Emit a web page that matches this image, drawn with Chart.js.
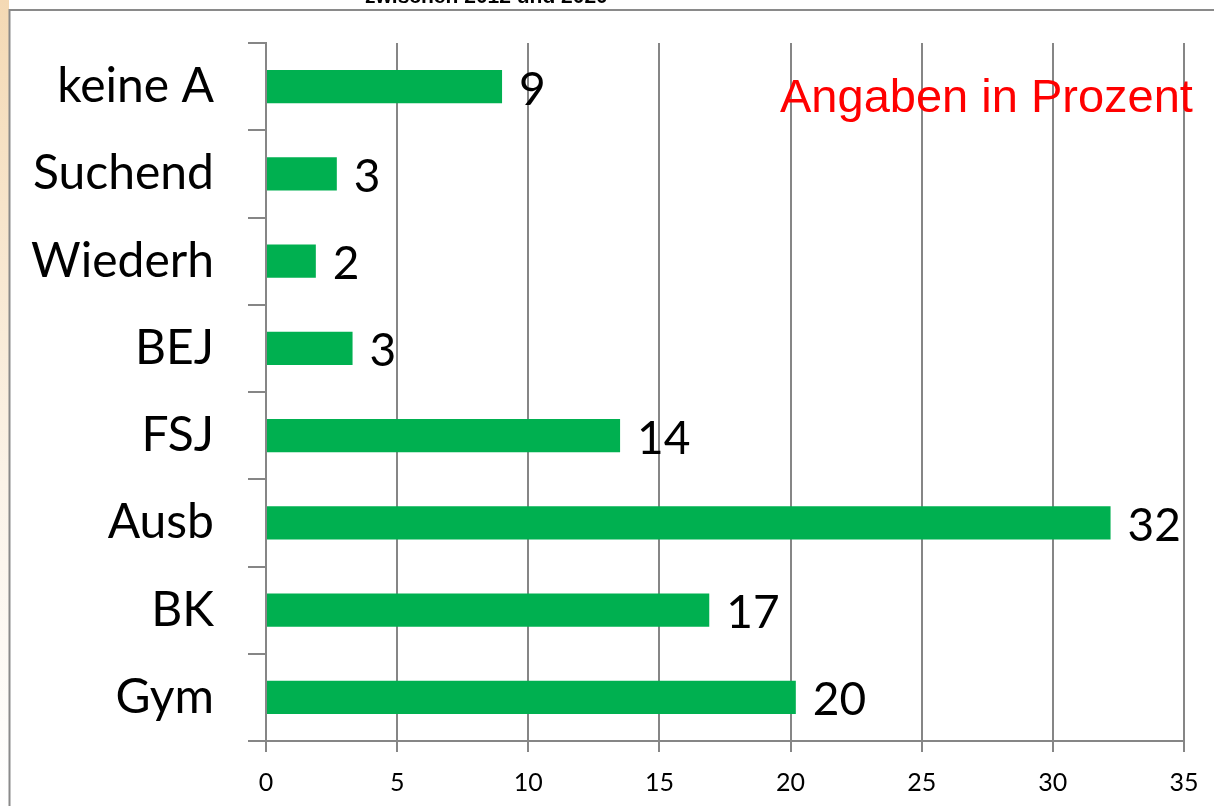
<!DOCTYPE html>
<html>
<head>
<meta charset="utf-8">
<script src="https://cdn.jsdelivr.net/npm/chart.js"></script>
<style>
html,body{margin:0;padding:0;background:#fff;overflow:hidden;}
#wrap{width:1214px;height:806px;position:relative;}
</style>
</head>
<body>
<div id="wrap"><canvas id="c" width="1214" height="806"></canvas></div>
<script>
const categories = ["keine A", "Suchend", "Wiederh", "BEJ", "FSJ", "Ausb", "BK", "Gym"];
const values = [9.0, 2.7, 1.9, 3.3, 13.5, 32.2, 16.9, 20.2];
const valueLabels = ["9", "3", "2", "3", "14", "32", "17", "20"];
const xTicks = [0, 5, 10, 15, 20, 25, 30, 35];
const titleText = "zwischen 2012 und 2020";
const noteText = "Angaben in Prozent";

const GRID = "#868686";

const framePlugin = {
  id: "frame",
  beforeDraw(chart) {
    const ctx = chart.ctx;
    ctx.save();
    ctx.fillStyle = "#ffffff";
    ctx.fillRect(0, 0, chart.width, chart.height);
    const g = ctx.createLinearGradient(0, 0, 0, 806);
    g.addColorStop(0, "#F4D9B4");
    g.addColorStop(0.6, "#FBF3E8");
    g.addColorStop(1, "#FFFFFF");
    ctx.fillStyle = g;
    ctx.fillRect(0, 0, 9, 806);
    ctx.strokeStyle = "#8a8a8a";
    ctx.lineWidth = 2;
    ctx.beginPath();
    ctx.moveTo(9.5, 820);
    ctx.lineTo(9.5, 10);
    ctx.lineTo(1220, 10);
    ctx.stroke();
    ctx.fillStyle = "#000";
    ctx.font = "bold 21px 'Liberation Sans', Arial, sans-serif";
    ctx.textBaseline = "alphabetic";
    ctx.textAlign = "left";
    ctx.fillText(titleText, 365, 3);
    ctx.restore();
  },
  afterDatasetsDraw(chart) {
    const ctx = chart.ctx;
    const meta = chart.getDatasetMeta(0);
    ctx.save();
    ctx.fillStyle = "#000";
    ctx.font = "46px Lato, sans-serif";
    ctx.textAlign = "left";
    ctx.textBaseline = "alphabetic";
    meta.data.forEach((bar, i) => {
      ctx.fillText(valueLabels[i], bar.x + 17, bar.y + 18);
    });
    ctx.fillStyle = "#FF0000";
    ctx.font = "47px 'Liberation Sans', Arial, sans-serif";
    ctx.fillText(noteText, 780, 112);
    ctx.restore();
  }
};

new Chart(document.getElementById("c"), {
  type: "bar",
  data: {
    labels: categories,
    datasets: [{
      data: values,
      backgroundColor: "#00B050",
      borderWidth: 0,
      categoryPercentage: 1.0,
      barPercentage: 0.38
    }]
  },
  options: {
    indexAxis: "y",
    responsive: false,
    animation: false,
    devicePixelRatio: 1,
    layout: { padding: { left: 0, top: 43, right: 30, bottom: 0 } },
    plugins: { legend: { display: false }, tooltip: { enabled: false }, title: { display: false } },
    scales: {
      x: {
        min: 0, max: 35,
        afterFit(scale) { scale.height = 65; scale.paddingLeft = 0; scale.paddingRight = 0; },
        afterBuildTicks(scale) { scale.ticks = xTicks.map(v => ({ value: v })); },
        grid: { color: GRID, lineWidth: 2, drawOnChartArea: true, drawTicks: true, tickLength: 11, tickColor: GRID },
        border: { display: true, color: GRID, width: 2 },
        ticks: { color: "#000", font: { family: "Lato, sans-serif", size: 25 }, padding: 16, maxRotation: 0 }
      },
      y: {
        afterFit(scale) { scale.width = 266; scale.paddingTop = 0; scale.paddingBottom = 0; },
        grid: { color: GRID, lineWidth: 2, drawOnChartArea: false, drawTicks: true, tickLength: 18, tickColor: GRID, offset: true },
        border: { display: true, color: GRID, width: 2 },
        ticks: { color: "#000", font: { family: "Lato, sans-serif", size: 48 }, padding: 34, autoSkip: false }
      }
    }
  },
  plugins: [framePlugin]
});
</script>
</body>
</html>
